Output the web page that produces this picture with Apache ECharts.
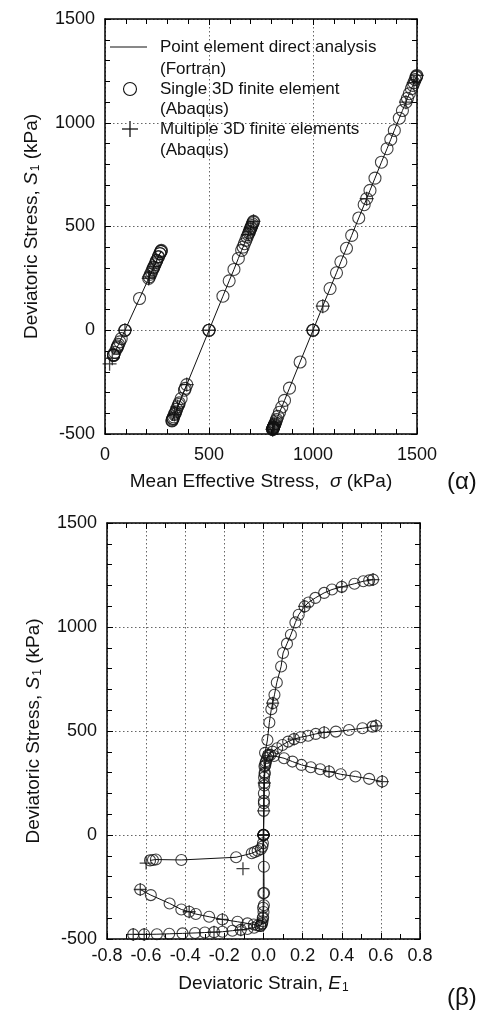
<!DOCTYPE html>
<html>
<head>
<meta charset="utf-8">
<script src="https://cdn.jsdelivr.net/npm/echarts@6/dist/echarts.min.js"></script>
<style>
  html, body { margin: 0; padding: 0; background: #fff; }
  #chart { width: 484px; height: 1010px; }
</style>
</head>
<body>
<div id="chart"></div>
<script>
// Stress paths of three drained tests (initial mean stress 100, 500 and 1000 kPa).
// S = deviatoric stress S1 (kPa), E = deviatoric strain E1, P = mean effective stress (kPa).

// Test 1, compression branch (single-element results)
const c1S = [0, 153, 250, 300, 335, 355, 370, 380, 385, 380, 369, 353, 337, 326, 316, 305, 292, 281, 270, 257];
const c1E = [0, 0.002, 0.004, 0.006, 0.009, 0.013, 0.018, 0.025, 0.035, 0.054, 0.105, 0.148, 0.194, 0.242, 0.29, 0.335, 0.395, 0.47, 0.54, 0.607];
const c1P = [96, 166, 210, 232, 248, 257, 264, 269, 271, 269, 264, 256, 249, 244, 240, 235, 229, 224, 219, 213];
// Test 1, extension branch
const d1S = [0, -40, -56, -68, -76, -82, -88, -107, -120, -118, -120, -122];
const d1E = [0, -0.003, -0.006, -0.014, -0.03, -0.045, -0.06, -0.14, -0.42, -0.55, -0.565, -0.58];
const d1P = [96, 78, 71, 65, 61, 59, 56, 47, 41, 42, 41, 41];
// Test 1, multiple-element results
const m1S = [0, 250, 305, 257, -135, -162];
const m1E = [0, 0.004, 0.335, 0.607, -0.6, -0.105];
const m1P = [96, 210, 235, 213, 35, 22];

// Test 2, compression branch
const c2S = [0, 164, 238, 293, 346, 385, 401, 417, 433, 449, 461, 470, 477, 486, 493, 497, 505, 513, 521, 525];
const c2E = [0, 0.002, 0.004, 0.006, 0.01, 0.024, 0.046, 0.07, 0.097, 0.126, 0.156, 0.19, 0.228, 0.267, 0.31, 0.37, 0.437, 0.506, 0.557, 0.575];
const c2P = [500, 567, 597, 620, 641, 657, 664, 670, 677, 683, 688, 692, 695, 698, 701, 703, 706, 709, 713, 714];
// Test 2, extension branch
const d2S = [0, -280, -350, -400, -425, -437, -435, -430, -425, -417, -406, -393, -380, -369, -358, -329, -289, -262];
const d2E = [0, -0.001, -0.002, -0.004, -0.008, -0.015, -0.03, -0.05, -0.082, -0.133, -0.21, -0.278, -0.346, -0.38, -0.42, -0.48, -0.576, -0.63];
const d2P = [500, 386, 357, 337, 327, 322, 322, 324, 327, 330, 334, 340, 345, 349, 354, 366, 382, 393];
// Test 2, multiple-element results
const m2S = [0, 461, 493, 525, -262, -369, -406];
const m2E = [0, 0.156, 0.31, 0.575, -0.63, -0.38, -0.21];
const m2P = [500, 688, 701, 714, 393, 349, 334];

// Test 3, compression branch
const c3S = [0, 116, 201, 277, 330, 395, 457, 541, 605, 634, 674, 733, 810, 875, 920, 963, 1022, 1059, 1099, 1118, 1140, 1164, 1180, 1193, 1208, 1220, 1224, 1228];
const c3E = [0, 0.001, 0.002, 0.003, 0.005, 0.008, 0.02, 0.03, 0.04, 0.047, 0.056, 0.068, 0.09, 0.10, 0.12, 0.14, 0.163, 0.18, 0.21, 0.23, 0.265, 0.31, 0.35, 0.40, 0.465, 0.51, 0.54, 0.56];
const c3P = [1000, 1047, 1082, 1113, 1134, 1161, 1186, 1220, 1246, 1258, 1274, 1298, 1329, 1356, 1374, 1391, 1415, 1430, 1447, 1454, 1463, 1473, 1480, 1485, 1491, 1496, 1498, 1499];
// Test 3, extension branch
const d3S = [0, -153, -279, -338, -370, -395, -415, -430, -437, -446, -452, -456, -460, -465, -467, -469, -471, -473, -475, -477, -478, -478];
const d3E = [0, 0.002, 0.003, 0.002, 0, -0.002, -0.005, -0.01, -0.017, -0.048, -0.082, -0.116, -0.159, -0.21, -0.253, -0.30, -0.35, -0.414, -0.482, -0.545, -0.61, -0.666];
const d3P = [1000, 938, 887, 863, 850, 839, 831, 825, 822, 819, 816, 815, 813, 811, 810, 809, 809, 808, 807, 806, 806, 806];
// Test 3, multiple-element results
const m3S = [0, 116, 634, 1099, 1193, 1228, -478, -478, -467, -456];
const m3E = [0, 0.001, 0.047, 0.21, 0.40, 0.56, -0.666, -0.61, -0.253, -0.116];
const m3P = [1000, 1047, 1258, 1447, 1485, 1499, 806, 806, 810, 815];

// Axis ranges and tick labels
const stressTicks = [-500, 0, 500, 1000, 1500];
const meanTicks = [0, 500, 1000, 1500];
const strainTicks = [-0.8, -0.6, -0.4, -0.2, 0.0, 0.2, 0.4, 0.6, 0.8];

// Legend texts
const legendLines = [
  ['Point element direct analysis', '(Fortran)'],
  ['Single 3D finite element', '(Abaqus)'],
  ['Multiple 3D finite elements', '(Abaqus)']
];

const FONT = 'Liberation Sans, Arial, Helvetica, sans-serif';
const PLUS = 'path://M5,0L5,10M0,5L10,5';

function zip(xs, ys) { return xs.map((x, i) => [x, ys[i]]); }

const chart = echarts.init(document.getElementById('chart'), null, { renderer: 'canvas' });

function frameAxis(pos, gridIndex, min, max, interval, minorSplit) {
  return {
    type: 'value', gridIndex, position: pos, min, max, interval,
    axisLine: { show: true, onZero: false, lineStyle: { color: '#000', width: 1.5 } },
    axisTick: { show: true, inside: true, length: 6, lineStyle: { color: '#000', width: 1 } },
    minorTick: { show: true, splitNumber: minorSplit, length: 5, lineStyle: { color: '#000', width: 1 } },
    axisLabel: { show: false },
    splitLine: { show: false }
  };
}

const labelStyle = { color: '#111', fontFamily: FONT, fontSize: 18 };
const nameStyleBase = { color: '#111', fontFamily: FONT, fontSize: 19 };
const rich = {
  t: { color: '#111', fontFamily: FONT, fontSize: 19 },
  i: { color: '#111', fontFamily: FONT, fontSize: 19, fontStyle: 'italic' },
  s: { color: '#111', fontFamily: FONT, fontSize: 12, padding: [9, 0, 0, 1] }
};
const gridLine = { show: true, lineStyle: { color: '#666', width: 1, type: [1.5, 2.5] } };

const stressName = '{t|Deviatoric Stress, }{i|S}{s|1}{t| (kPa)}';

function stressAxis(gridIndex) {
  return {
    type: 'value', gridIndex, position: 'left',
    min: stressTicks[0], max: stressTicks[stressTicks.length - 1], interval: 500,
    axisLine: { show: true, onZero: false, lineStyle: { color: '#000', width: 1.5 } },
    axisTick: { show: true, inside: true, length: 6, lineStyle: { color: '#000', width: 1 } },
    minorTick: { show: true, splitNumber: 5, length: 5, lineStyle: { color: '#000', width: 1 } },
    axisLabel: Object.assign({ margin: 10, formatter: v => String(v) }, labelStyle),
    splitLine: gridLine,
    name: stressName, nameLocation: 'middle', nameRotate: 90, nameGap: 63,
    nameTextStyle: Object.assign({ rich }, nameStyleBase)
  };
}

const circleStyle = { color: 'rgba(0,0,0,0)', borderColor: '#111', borderWidth: 1.1 };
const plusStyle = { color: 'rgba(0,0,0,0)', borderColor: '#111', borderWidth: 1.3 };

function lineSeries(xi, yi, data) {
  return { type: 'line', xAxisIndex: xi, yAxisIndex: yi, data, showSymbol: false, symbol: 'none',
    lineStyle: { color: '#111', width: 1 }, z: 2, silent: true, animation: false };
}
function circleSeries(xi, yi, data, size) {
  return { type: 'scatter', xAxisIndex: xi, yAxisIndex: yi, data, symbol: 'circle', symbolSize: size,
    itemStyle: circleStyle, z: 3, silent: true, animation: false };
}
function plusSeries(xi, yi, data, size) {
  return { type: 'scatter', xAxisIndex: xi, yAxisIndex: yi, data, symbol: PLUS, symbolSize: size,
    itemStyle: plusStyle, z: 4, silent: true, animation: false };
}

const branches = [
  { S: c1S, E: c1E, P: c1P }, { S: d1S, E: d1E, P: d1P },
  { S: c2S, E: c2E, P: c2P }, { S: d2S, E: d2E, P: d2P },
  { S: c3S, E: c3E, P: c3P }, { S: d3S, E: d3E, P: d3P }
];
const multiples = [
  { S: m1S, E: m1E, P: m1P }, { S: m2S, E: m2E, P: m2P }, { S: m3S, E: m3E, P: m3P }
];

const series = [];
branches.forEach(b => {
  series.push(lineSeries(0, 0, zip(b.P, b.S)));
  series.push(circleSeries(0, 0, zip(b.P, b.S), 12));
  series.push(lineSeries(2, 2, zip(b.E, b.S)));
  series.push(circleSeries(2, 2, zip(b.E, b.S), 11));
});
multiples.forEach(m => {
  series.push(plusSeries(0, 0, zip(m.P, m.S), 14));
  series.push(plusSeries(2, 2, zip(m.E, m.S), 13));
});

// Legend drawn inside the upper panel
const LX = 160, LFS = 17;
const legendY = [[47, 69], [89, 109], [129, 150]];
const legendGraphics = [
  { type: 'line', shape: { x1: 110, y1: 47, x2: 147, y2: 47 }, style: { stroke: '#111', lineWidth: 1 } },
  { type: 'circle', shape: { cx: 130, cy: 89, r: 6.5 }, style: { fill: 'none', stroke: '#111', lineWidth: 1.1 } },
  { type: 'line', shape: { x1: 122, y1: 129, x2: 138, y2: 129 }, style: { stroke: '#111', lineWidth: 1.3 } },
  { type: 'line', shape: { x1: 130, y1: 121, x2: 130, y2: 137 }, style: { stroke: '#111', lineWidth: 1.3 } }
];
legendLines.forEach((pair, k) => {
  pair.forEach((txt, j) => {
    legendGraphics.push({ type: 'text', x: LX, y: legendY[k][j],
      style: { text: txt, fill: '#111', font: LFS + 'px ' + FONT, textVerticalAlign: 'middle' } });
  });
});

const option = {
  backgroundColor: '#fff',
  animation: false,
  title: [
    { text: '(α)', left: 442, top: 465, textStyle: { fontFamily: FONT, fontSize: 24, fontWeight: 'normal', color: '#111' } },
    { text: '(β)', left: 442, top: 981, textStyle: { fontFamily: FONT, fontSize: 24, fontWeight: 'normal', color: '#111' } }
  ],
  grid: [
    { left: 105, top: 19, width: 312, height: 415 },
    { left: 107, top: 523, width: 313, height: 416 }
  ],
  xAxis: [
    {
      type: 'value', gridIndex: 0, position: 'bottom',
      min: meanTicks[0], max: meanTicks[meanTicks.length - 1], interval: 500,
      axisLine: { show: true, onZero: false, lineStyle: { color: '#000', width: 1.5 } },
      axisTick: { show: true, inside: true, length: 6, lineStyle: { color: '#000', width: 1 } },
      minorTick: { show: true, splitNumber: 5, length: 5, lineStyle: { color: '#000', width: 1 } },
      axisLabel: Object.assign({ margin: 12, formatter: v => String(v) }, labelStyle),
      splitLine: gridLine,
      name: '{t|Mean Effective Stress,  }{i|σ}{t| (kPa)}', nameLocation: 'middle', nameGap: 38,
      nameTextStyle: Object.assign({ rich }, nameStyleBase)
    },
    frameAxis('top', 0, meanTicks[0], meanTicks[meanTicks.length - 1], 500, 5),
    {
      type: 'value', gridIndex: 1, position: 'bottom',
      min: strainTicks[0], max: strainTicks[strainTicks.length - 1], interval: 0.2,
      axisLine: { show: true, onZero: false, lineStyle: { color: '#000', width: 1.5 } },
      axisTick: { show: true, inside: true, length: 6, lineStyle: { color: '#000', width: 1 } },
      minorTick: { show: true, splitNumber: 2, length: 5, lineStyle: { color: '#000', width: 1 } },
      axisLabel: Object.assign({ margin: 8, formatter: v => v.toFixed(1) }, labelStyle),
      splitLine: gridLine,
      name: '{t|Deviatoric Strain, }{i|E}{s|1}', nameLocation: 'middle', nameGap: 34,
      nameTextStyle: Object.assign({ rich }, nameStyleBase)
    },
    frameAxis('top', 1, strainTicks[0], strainTicks[strainTicks.length - 1], 0.2, 2)
  ],
  yAxis: [
    stressAxis(0),
    frameAxis('right', 0, stressTicks[0], stressTicks[stressTicks.length - 1], 500, 5),
    stressAxis(1),
    frameAxis('right', 1, stressTicks[0], stressTicks[stressTicks.length - 1], 500, 5)
  ],
  graphic: legendGraphics,
  series
};

chart.setOption(option);
</script>
</body>
</html>
